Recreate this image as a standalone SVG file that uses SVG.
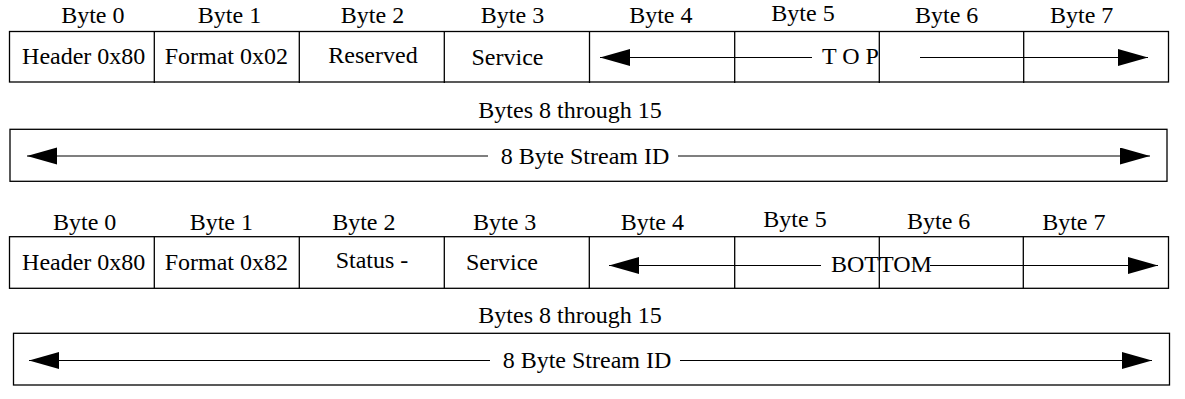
<svg xmlns="http://www.w3.org/2000/svg" width="1185" height="399" viewBox="0 0 1185 399">
  <style>
    text { font-family: 'Liberation Serif', 'DejaVu Serif', serif; font-size: 24px; fill: #000; }
    .c { text-anchor: middle; }
    .box { fill: none; stroke: #000; stroke-width: 1.3; }
    .div { stroke: #000; stroke-width: 1.3; }
    .arrow { stroke: #000; stroke-width: 1.2; fill: none; marker-end: url(#head); }
  </style>
  <defs>
    <marker id="head" markerUnits="userSpaceOnUse" markerWidth="31" markerHeight="18" refX="30" refY="8.5" orient="auto">
      <path d="M0,0 L30,8.5 L0,17 z" fill="#000"/>
    </marker>
  </defs>
  <rect width="1185" height="399" fill="#fff"/>

  <!-- Top packet: byte numbers -->
  <g id="top-byte-labels">
    <text class="c" x="92.8" y="23.3">Byte 0</text>
    <text class="c" x="229.5" y="23.3">Byte 1</text>
    <text class="c" x="372.5" y="23.3">Byte 2</text>
    <text class="c" x="512.5" y="23.3">Byte 3</text>
    <text class="c" x="660.8" y="23.3">Byte 4</text>
    <text class="c" x="803" y="20.5">Byte 5</text>
    <text class="c" x="946.7" y="23.3">Byte 6</text>
    <text class="c" x="1081.7" y="23.3">Byte 7</text>
  </g>

  <!-- Top packet: first 8 bytes -->
  <g id="top-header">
    <rect class="box" x="9.5" y="31.5" width="1159" height="50.5"/>
    <line class="div" x1="154.3" y1="31.5" x2="154.3" y2="83"/>
    <line class="div" x1="299.3" y1="31.5" x2="299.3" y2="83"/>
    <line class="div" x1="444.3" y1="31.5" x2="444.3" y2="83"/>
    <line class="div" x1="589.5" y1="31.5" x2="589.5" y2="83"/>
    <line class="div" x1="734.7" y1="31.5" x2="734.7" y2="83"/>
    <line class="div" x1="879.3" y1="31.5" x2="879.3" y2="83"/>
    <line class="div" x1="1023.7" y1="31.5" x2="1023.7" y2="83"/>
    <text class="c" x="83.7" y="64.3">Header 0x80</text>
    <text class="c" x="226.3" y="64.3">Format 0x02</text>
    <text class="c" x="373" y="63">Reserved</text>
    <text class="c" x="507.5" y="65">Service</text>
    <text x="822" y="64.3">T O P</text>
  </g>

  <!-- Top packet: stream id -->
  <g id="top-stream-id">
    <text class="c" x="570" y="118.3">Bytes 8 through 15</text>
    <rect class="box" x="10" y="129.3" width="1157" height="52"/>
    <text class="c" x="585" y="163.5">8 Byte Stream ID</text>
  </g>

  <!-- Bottom packet: byte numbers -->
  <g id="bottom-byte-labels">
    <text class="c" x="84.7" y="229.5">Byte 0</text>
    <text class="c" x="221.3" y="229.5">Byte 1</text>
    <text class="c" x="363.8" y="229.5">Byte 2</text>
    <text class="c" x="504.7" y="229.5">Byte 3</text>
    <text class="c" x="652.3" y="229.5">Byte 4</text>
    <text class="c" x="795" y="226.5">Byte 5</text>
    <text class="c" x="938.7" y="228.5">Byte 6</text>
    <text class="c" x="1073.8" y="229.5">Byte 7</text>
  </g>

  <!-- Bottom packet: first 8 bytes -->
  <g id="bottom-header">
    <rect class="box" x="9.5" y="236.7" width="1159" height="51.6"/>
    <line class="div" x1="154.3" y1="236.7" x2="154.3" y2="288.3"/>
    <line class="div" x1="299.3" y1="236.7" x2="299.3" y2="288.3"/>
    <line class="div" x1="444.3" y1="236.7" x2="444.3" y2="288.3"/>
    <line class="div" x1="589.3" y1="236.7" x2="589.3" y2="288.3"/>
    <line class="div" x1="734.7" y1="236.7" x2="734.7" y2="288.3"/>
    <line class="div" x1="879.3" y1="236.7" x2="879.3" y2="288.3"/>
    <line class="div" x1="1023.3" y1="236.7" x2="1023.3" y2="288.3"/>
    <text class="c" x="83.7" y="270">Header 0x80</text>
    <text class="c" x="226.3" y="270">Format 0x82</text>
    <text class="c" x="372" y="268">Status -</text>
    <text class="c" x="502" y="270">Service</text>
    <text x="831" y="271.5">BOTTOM</text>
  </g>

  <!-- Bottom packet: stream id -->
  <g id="bottom-stream-id">
    <text class="c" x="570" y="323.3">Bytes 8 through 15</text>
    <rect class="box" x="13.5" y="333.3" width="1156" height="51.7"/>
    <text class="c" x="587" y="367.5">8 Byte Stream ID</text>
  </g>

  <!-- Span arrows -->
  <g id="connectors">
    <line class="arrow" x1="812" y1="57.5" x2="600" y2="57.5"/>
    <line class="arrow" x1="920" y1="57.5" x2="1148" y2="57.5"/>
    <line class="arrow" x1="488" y1="156" x2="27" y2="156"/>
    <line class="arrow" x1="678" y1="156" x2="1150" y2="156"/>
    <line class="arrow" x1="821" y1="265.5" x2="609" y2="265.5"/>
    <line class="arrow" x1="930" y1="265.5" x2="1158" y2="265.5"/>
    <line class="arrow" x1="490" y1="360.5" x2="29" y2="360.5"/>
    <line class="arrow" x1="680" y1="360.5" x2="1152" y2="360.5"/>
  </g>
</svg>
